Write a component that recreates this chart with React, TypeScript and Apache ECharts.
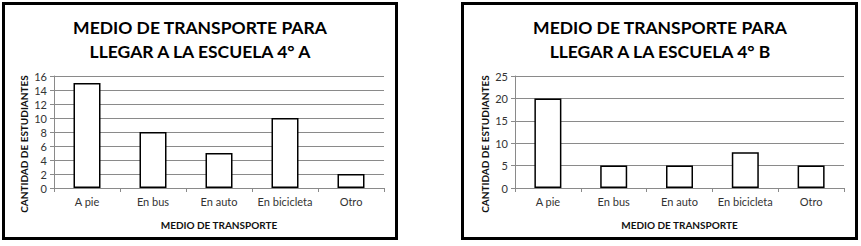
import React, { useEffect, useRef } from "react";
import * as echarts from "echarts";

const categories = ["A pie", "En bus", "En auto", "En bicicleta", "Otro"];
const valuesA = [15, 8, 5, 10, 2];
const valuesB = [20, 5, 5, 8, 5];
const titleA = "MEDIO DE TRANSPORTE PARA\nLLEGAR A LA ESCUELA 4° A";
const titleB = "MEDIO DE TRANSPORTE PARA\nLLEGAR A LA ESCUELA 4° B";
const xName = "MEDIO DE TRANSPORTE";
const yName = "CANTIDAD DE ESTUDIANTES";

const FONT = "Lato";
const gridColor = "#8a8a8a";
const labelColor = "#333";

export default function App() {
  const ref = useRef<HTMLDivElement>(null);
  useEffect(() => {
    document.body.style.margin = "0";
    const chart = echarts.init(ref.current!, null, { renderer: "svg" });
    const mkX = (gridIndex: number) => ({
      type: "category" as const,
      gridIndex,
      data: categories,
      boundaryGap: true,
      axisLine: { lineStyle: { color: gridColor, width: 1 } },
      axisTick: { show: true, length: 4, interval: 0, lineStyle: { color: gridColor } },
      axisLabel: { color: labelColor, fontSize: 11, fontFamily: FONT, margin: 8, interval: 0 },
      name: xName,
      nameLocation: "middle" as const,
      nameGap: 32,
      nameTextStyle: { fontWeight: "bold" as const, fontSize: 10, fontFamily: FONT, color: "#111" },
    });
    const mkY = (gridIndex: number, max: number, interval: number) => ({
      type: "value" as const,
      gridIndex,
      min: 0,
      max,
      interval,
      axisLine: { show: true, lineStyle: { color: gridColor, width: 1 } },
      axisTick: { show: true, length: 4, lineStyle: { color: gridColor } },
      axisLabel: { color: labelColor, fontSize: 11, fontFamily: FONT, margin: 7 },
      splitLine: { show: true, lineStyle: { color: gridColor, width: 1 } },
    });
    const barStyle = {
      type: "bar" as const,
      barWidth: 27,
      itemStyle: { color: "#fff", borderColor: "#000", borderWidth: 1.5 },
    };
    const titleStyle = {
      fontFamily: FONT,
      fontWeight: "bold",
      fontSize: 17.5,
      fill: "#000",
      align: "center",
      verticalAlign: "top",
      lineHeight: 24,
    };
    const yNameStyle = {
      text: yName,
      fontFamily: FONT,
      fontWeight: "bold",
      fontSize: 10,
      fill: "#111",
      align: "center",
      verticalAlign: "middle",
    };
    chart.setOption({
      animation: false,
      grid: [
        { left: 54, top: 76, width: 330, height: 112 },
        { left: 515, top: 76, width: 329, height: 112 },
      ],
      xAxis: [mkX(0), mkX(1)],
      yAxis: [mkY(0, 16, 2), mkY(1, 25, 5)],
      series: [
        { ...barStyle, xAxisIndex: 0, yAxisIndex: 0, data: valuesA },
        { ...barStyle, xAxisIndex: 1, yAxisIndex: 1, data: valuesB },
      ],
      graphic: [
        { type: "rect", shape: { x: 3.5, y: 3.5, width: 393, height: 235 }, style: { fill: "none", stroke: "#000", lineWidth: 3 } },
        { type: "rect", shape: { x: 462.5, y: 3.5, width: 394, height: 235 }, style: { fill: "none", stroke: "#000", lineWidth: 3 } },
        { type: "text", x: 200, y: 15, style: { ...titleStyle, text: titleA } },
        { type: "text", x: 660, y: 15, style: { ...titleStyle, text: titleB } },
        { type: "text", x: 24, y: 144, rotation: Math.PI / 2, style: yNameStyle },
        { type: "text", x: 485, y: 144, rotation: Math.PI / 2, style: yNameStyle },
      ],
    });
    return () => chart.dispose();
  }, []);
  return <div ref={ref} style={{ width: 861, height: 246 }} />;
}
